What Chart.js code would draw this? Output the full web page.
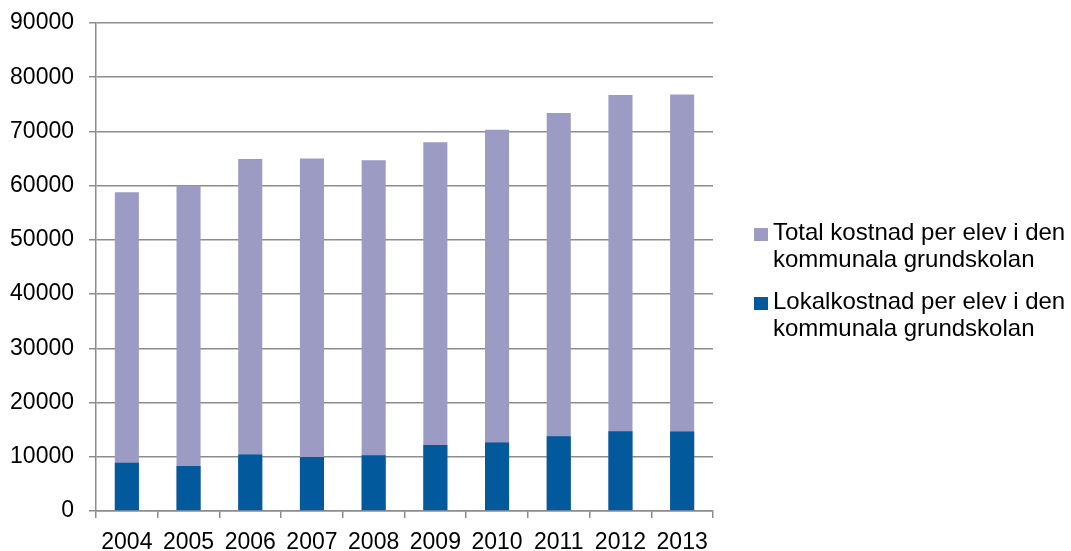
<!DOCTYPE html>
<html>
<head>
<meta charset="utf-8">
<script src="https://cdn.jsdelivr.net/npm/chart.js@4"></script>
<style>
  html, body { margin: 0; padding: 0; background: #fff; }
  #wrap { position: relative; width: 1071px; height: 551px; }
  #legend { position: absolute; left: 754px; top: 219px; font: 24px "Liberation Sans", Arial, sans-serif; color: #000; }
  .item { position: relative; padding-left: 19px; line-height: 26.5px; margin-bottom: 16px; }
  .box { position: absolute; left: 0; top: 9px; width: 14px; height: 13px; }
</style>
</head>
<body>
<div id="wrap">
  <canvas id="c" width="1071" height="551"></canvas>
  <div id="legend"></div>
</div>
<script>
// data
const years = ['2004', '2005', '2006', '2007', '2008', '2009', '2010', '2011', '2012', '2013']
const totalKostnad = [58800, 60000, 64900, 65000, 64700, 68000, 70300, 73400, 76700, 76800]
const lokalKostnad = [8900, 8300, 10400, 9950, 10300, 12150, 12650, 13800, 14700, 14650]
const labelTotal = ['Total kostnad per elev i den', 'kommunala grundskolan']
const labelLokal = ['Lokalkostnad per elev i den', 'kommunala grundskolan']

const purple = '#9b9bc3'
const blue = '#02599c'
const gridGray = '#8c8c8c'
const font = { family: '"Liberation Sans", Arial, sans-serif', size: 23, lineHeight: 1 }

const ctx = document.getElementById('c')
new Chart(ctx, {
  type: 'bar',
  data: {
    labels: years,
    datasets: [
      {
        label: labelTotal.join(' '),
        data: totalKostnad,
        backgroundColor: purple,
        order: 1
      },
      {
        label: labelLokal.join(' '),
        data: lokalKostnad,
        backgroundColor: blue,
        order: 0
      }
    ]
  },
  options: {
    responsive: false,
    animation: false,
    categoryPercentage: 1,
    barPercentage: 0.39,
    layout: { padding: { left: 10, right: 358, top: 0, bottom: 0 } },
    plugins: {
      legend: { display: false },
      tooltip: { enabled: false }
    },
    scales: {
      x: {
        stacked: true,
        afterFit: (scale) => { scale.height = 40 },
        grid: { offset: true, drawOnChartArea: false, drawTicks: true, tickLength: 7, color: gridGray, lineWidth: 1.5 },
        border: { color: gridGray, width: 1.5 },
        ticks: { color: '#000', font: font, padding: 13, maxRotation: 0 }
      },
      y: {
        stacked: false,
        min: 0,
        max: 90000,
        afterFit: (scale) => {
          scale.width = 86
          scale.paddingTop = 23
        },
        grid: { color: gridGray, lineWidth: 1.5, tickLength: 7 },
        border: { color: gridGray, width: 1.5 },
        ticks: { stepSize: 10000, color: '#000', font: font, padding: 15, callback: (v) => String(v) }
      }
    }
  }
})

// legend as real text
const legend = document.getElementById('legend')
;[[purple, labelTotal], [blue, labelLokal]].forEach(([color, lines]) => {
  const item = document.createElement('div')
  item.className = 'item'
  const box = document.createElement('span')
  box.className = 'box'
  box.style.background = color
  item.appendChild(box)
  lines.forEach((line, i) => {
    if (i > 0) item.appendChild(document.createElement('br'))
    item.appendChild(document.createTextNode(line))
  })
  legend.appendChild(item)
})
</script>
</body>
</html>
